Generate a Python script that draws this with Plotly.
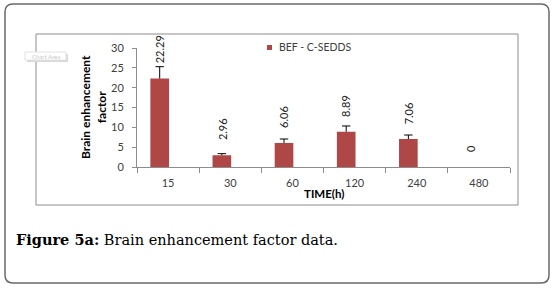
import math
import plotly.graph_objects as go

# ---- data ----
categories = ["15", "30", "60", "120", "240", "480"]
bef_values = [22.29, 2.96, 6.06, 8.89, 7.06, 0]
bef_errors = [3.0, 0.4, 1.0, 1.45, 1.0, float("nan")]
series_name = "BEF - C-SEDDS"
y_ticks = [0, 5, 10, 15, 20, 25, 30]
x_title = "TIME(h)"
y_title = "Brain enhancement<br>factor"
caption_bold = "Figure 5a:"
caption_text = " Brain enhancement factor data."

# ---- style ----
W, H = 555, 290
L, R, T, B = 137, 510, 48, 167
BAR_COLOR = "#B04747"
AXIS_COLOR = "#8C8C8C"
TEXT_COLOR = "#404040"
BAR_OFFSET = -0.285
BAR_WIDTH = 0.30
FONT = "Lato, 'Open Sans', sans-serif"


def px(x):
    return (x - L) / (R - L)


def py(y):
    return (B - y) / (B - T)


positions = list(range(len(categories)))
bar_centers = [p + BAR_OFFSET + BAR_WIDTH / 2 for p in positions]
err_tops = [v + e for v, e in zip(bef_values, bef_errors)]

fig = go.Figure()
fig.add_trace(go.Bar(
    x=positions, y=bef_values, name=series_name,
    marker=dict(color=BAR_COLOR, line=dict(width=0)),
    offset=BAR_OFFSET, width=BAR_WIDTH, showlegend=False,
))
# error bars (plus direction only) with caps
fig.add_trace(go.Scatter(
    x=bar_centers, y=err_tops, mode="markers", showlegend=False,
    marker=dict(symbol="line-ew", size=6, line=dict(color="black", width=1)),
    error_y=dict(type="data", symmetric=False, array=[0] * len(bef_errors),
                 arrayminus=[0 if math.isnan(e) else e for e in bef_errors],
                 width=0, thickness=1, color="black"),
    hoverinfo="skip",
))

annotations = []
# data labels
for c, v in zip(bar_centers, bef_values):
    annotations.append(dict(
        x=c, y=v, xref="x", yref="y", text=f"{v:g}" if v == 0 else f"{v:.2f}",
        showarrow=False, textangle=-90, xanchor="center", yanchor="bottom",
        yshift=13, font=dict(family=FONT, size=11, color="#222222"),
    ))
# axis titles
annotations.append(dict(
    x=px(93.5), y=0.5, xref="paper", yref="paper", text="<b>" + y_title + "</b>",
    showarrow=False, textangle=-90, xanchor="center", yanchor="middle",
    font=dict(family=FONT, size=12, color="black"),
))
annotations.append(dict(
    x=0.5, y=py(193), xref="paper", yref="paper", text="<b>" + x_title + "</b>",
    showarrow=False, xanchor="center", yanchor="middle",
    font=dict(family=FONT, size=11.5, color="black"),
))
# legend text
annotations.append(dict(
    x=px(277), y=py(47), xref="paper", yref="paper", text=series_name,
    showarrow=False, xanchor="left", yanchor="middle",
    font=dict(family=FONT, size=10.5, color=TEXT_COLOR),
))
# caption
annotations.append(dict(
    x=px(14), y=py(239.5), xref="paper", yref="paper",
    text="<b>" + caption_bold + "</b>" + caption_text,
    showarrow=False, xanchor="left", yanchor="middle",
    font=dict(family="'DejaVu Serif', 'Liberation Serif', serif", size=14.5, color="black"),
))
# "Chart Area" tooltip
annotations.append(dict(
    x=px(46), y=py(56), xref="paper", yref="paper", text="Chart Area",
    showarrow=False, xanchor="center", yanchor="middle",
    font=dict(family=FONT, size=6, color="#C8C8C8"),
))


def rounded_rect(x0, y0, x1, y1, r):
    rx = r / (R - L)
    ry = r / (B - T)
    X0, X1 = px(x0), px(x1)
    Y0, Y1 = py(y0), py(y1)  # Y0 top, Y1 bottom
    return (f"M{X0 + rx},{Y0} L{X1 - rx},{Y0} Q{X1},{Y0} {X1},{Y0 - ry} "
            f"L{X1},{Y1 + ry} Q{X1},{Y1} {X1 - rx},{Y1} "
            f"L{X0 + rx},{Y1} Q{X0},{Y1} {X0},{Y1 + ry} "
            f"L{X0},{Y0 - ry} Q{X0},{Y0} {X0 + rx},{Y0} Z")


shapes = [
    dict(type="path", xref="paper", yref="paper", path=rounded_rect(5, 4, 549, 283, 8),
         line=dict(color="#6A6A6A", width=1.5), layer="below"),
    dict(type="rect", xref="paper", yref="paper", x0=px(36), x1=px(518), y0=py(34), y1=py(205),
         line=dict(color="#8C8C8C", width=1), layer="below"),
    # tooltip shadow + box
    dict(type="rect", xref="paper", yref="paper", x0=px(27), x1=px(68), y0=py(54), y1=py(62),
         line=dict(width=0), fillcolor="#D8D8D8", layer="below"),
    dict(type="rect", xref="paper", yref="paper", x0=px(25), x1=px(66), y0=py(52), y1=py(60),
         line=dict(color="#E2E2E2", width=1), fillcolor="white", layer="below"),
    # legend marker
    dict(type="rect", xref="paper", yref="paper", x0=px(267), x1=px(272), y0=py(45), y1=py(50),
         line=dict(width=0), fillcolor=BAR_COLOR),
]

fig.update_layout(
    width=W, height=H,
    margin=dict(l=L, r=W - R, t=T, b=H - B, pad=0),
    paper_bgcolor="white", plot_bgcolor="rgba(0,0,0,0)",
    showlegend=False,
    font=dict(family=FONT, size=11, color=TEXT_COLOR),
    annotations=annotations, shapes=shapes,
    xaxis=dict(
        range=[-0.5, len(categories) - 0.5], tickmode="array", tickvals=positions,
        ticktext=categories, ticks="", showline=True, linecolor=AXIS_COLOR, linewidth=1,
        showgrid=False, zeroline=False, fixedrange=True,
        tickfont=dict(family=FONT, size=11, color=TEXT_COLOR), ticklabelstandoff=6,
        minor=dict(tickmode="array", tickvals=[p - 0.5 for p in positions] + [positions[-1] + 0.5],
                   ticks="outside", ticklen=5, tickcolor=AXIS_COLOR, tickwidth=1, showgrid=False),
    ),
    yaxis=dict(
        range=[0, 30], tickmode="array", tickvals=y_ticks, ticks="outside", ticklen=4,
        tickcolor=AXIS_COLOR, showline=True, linecolor=AXIS_COLOR, linewidth=1,
        showgrid=False, zeroline=False, fixedrange=True,
        tickfont=dict(family=FONT, size=11, color=TEXT_COLOR), ticklabelstandoff=6,
    ),
)

fig.write_html("out.html", config={"displayModeBar": False},
               post_script="document.body.style.margin='0';")
